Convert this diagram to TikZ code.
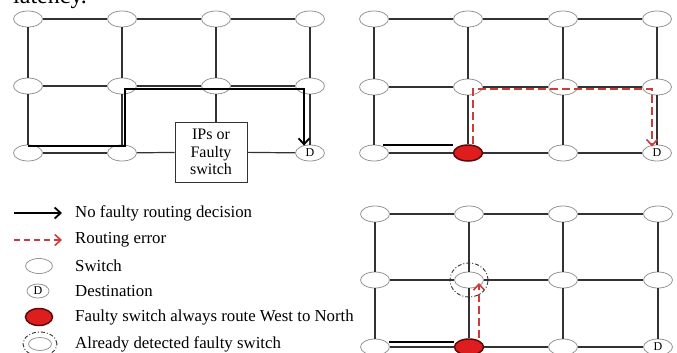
\documentclass[tikz,border=0pt]{standalone}
\usepackage{fontspec}
\setmainfont{Liberation Serif}
\usetikzlibrary{shapes.geometric,arrows.meta,calc}
\definecolor{gridc}{RGB}{50,50,50}
\definecolor{nodec}{RGB}{150,150,150}
\definecolor{errc}{RGB}{205,60,60}
\definecolor{faultfill}{RGB}{222,30,30}
\definecolor{faultdraw}{RGB}{90,10,10}
\tikzset{
  sw/.style={ellipse, draw=nodec, fill=white, minimum width=29pt, minimum height=16pt, inner sep=0pt, line width=0.8pt, font=\fontsize{12}{13}\selectfont},
  fsw/.style={sw, draw=faultdraw, fill=faultfill, line width=1.5pt},
  link/.style={draw=gridc, line width=1.2pt},
  route/.style={draw=black, line width=1.8pt},
  err/.style={draw=errc, line width=1.6pt, dash pattern=on 8pt off 4pt},
  barb/.style={-{Straight Barb[length=6pt,width=11pt,line width=1.8pt]}},
  ebarb/.style={-{Straight Barb[length=6pt,width=11pt,line width=1.6pt]}},
  legtext/.style={anchor=west, inner sep=0pt, font=\fontsize{16.8}{19}\selectfont},
  detect/.style={ellipse, draw=gray!40!black, line width=0.9pt, dash pattern=on 4pt off 2pt on 1pt off 2pt, minimum width=38pt, minimum height=34pt, inner sep=0pt}
}
\begin{document}
\begin{tikzpicture}[x=1pt,y=-1pt]
\useasboundingbox (0,0) rectangle (677,353);
\node[anchor=base west, inner sep=0pt, font=\fontsize{24}{26}\selectfont] (lat) at (13,4) {latency.};
% ---------- Panel 1 ----------
\foreach \r/\y in {1/19,2/86,3/153}{
  \foreach \c/\x in {1/28,2/122,3/216,4/310}{
    \coordinate (pa\r\c) at (\x,\y);
  }
}
\node[draw=gridc, fill=white, line width=1pt, minimum width=72pt, minimum height=60pt, inner sep=0pt, align=center, font=\fontsize{16}{17.5}\selectfont] (box) at (211,152) {IPs or\\Faulty\\switch};
\foreach \n in {11,12,13,14,21,22,23,24,31,32}{ \node[sw] (a\n) at (pa\n) {}; }
\node[sw] (a34) at (pa34) {D};
\draw[link] (a11) -- (a12); \draw[link] (a12) -- (a13); \draw[link] (a13) -- (a14);
\draw[link] (a21) -- (a22); \draw[link] (a22) -- (a23); \draw[link] (a23) -- (a24);
\draw[link] (a31) -- (a32); \draw[link] (a32) -- (box); \draw[link] (box) -- (a34);
\draw[link] (a11) -- (a21); \draw[link] (a21) -- (a31);
\draw[link] (a12) -- (a22); \draw[link] (a22) -- (a32);
\draw[link] (a13) -- (a23); \draw[link] (a23) -- (a23 |- box.north);
\draw[link] (a14) -- (a24); \draw[link] (a24) -- (a34);
\coordinate (r1a) at ($(a31)+(0,-7)$);
\coordinate (r1b) at ($(a32)+(3,-7)$);
\coordinate (r1c) at ($(a22)+(3,3)$);
\coordinate (r1d) at ($(a24)+(-6,3)$);
\coordinate (r1e) at ($(a34.north)+(-6,1)$);
\draw[route, barb] (r1a) -- (r1b) -- (r1c) -- (r1d) -- (r1e);
% ---------- Panel 2 ----------
\foreach \r/\y in {1/19,2/87,3/153}{
  \foreach \c/\x in {1/374,2/468,3/563,4/657}{
    \coordinate (pb\r\c) at (\x,\y);
  }
}
\foreach \n in {11,12,13,14,21,22,23,24,31,33}{ \node[sw] (b\n) at (pb\n) {}; }
\node[sw] (b34) at (pb34) {D};
\node[fsw] (b32) at (pb32) {};
\foreach \r in {1,2,3}{
  \draw[link] (b\r1) -- (b\r2); \draw[link] (b\r2) -- (b\r3); \draw[link] (b\r3) -- (b\r4);
}
\foreach \c in {1,2,3,4}{
  \draw[link] (b1\c) -- (b2\c); \draw[link] (b2\c) -- (b3\c);
}
\coordinate (r2a) at ($(b31)+(9,-8)$);
\coordinate (r2b) at ($(b32.west)+(0,-8)$);
\draw[route, line width=1.6pt] (r2a) -- (r2b);
\coordinate (e2a) at ($(b32.north)+(5,0)$);
\coordinate (e2b) at ($(b22)+(5,2)$);
\coordinate (e2c) at ($(b24)+(-5,2)$);
\coordinate (e2d) at ($(b34.north)+(-5,2)$);
\draw[err, ebarb] (e2a) -- (e2b) -- (e2c) -- (e2d);
% ---------- Panel 3 ----------
\foreach \r/\y in {1/214,2/280,3/347}{
  \foreach \c/\x in {1/375,2/469,3/563,4/658}{
    \coordinate (pc\r\c) at (\x,\y);
  }
}
\foreach \n in {11,12,13,14,21,22,23,24,31,33}{ \node[sw] (c\n) at (pc\n) {}; }
\node[sw] (c34) at (pc34) {D};
\node[fsw] (c32) at (pc32) {};
\foreach \r in {1,2,3}{
  \draw[link] (c\r1) -- (c\r2); \draw[link] (c\r2) -- (c\r3); \draw[link] (c\r3) -- (c\r4);
}
\foreach \c in {1,2,3,4}{
  \draw[link] (c1\c) -- (c2\c); \draw[link] (c2\c) -- (c3\c);
}
\node[detect] (det) at (c22) {};
\coordinate (r3a) at ($(c31)+(14,-5)$);
\coordinate (r3b) at ($(c32.west)+(0,-5)$);
\draw[route, line width=1.4pt] (r3a) -- (r3b);
\coordinate (e3a) at ($(c32.north)+(10,0)$);
\coordinate (e3b) at ($(c22)+(10,3)$);
\draw[err, ebarb] (e3a) -- (e3b);
% ---------- Legend ----------
\coordinate (l1a) at (14,213); \coordinate (l1b) at (62,213);
\draw[route, line width=1.5pt, barb] (l1a) -- (l1b);
\node[legtext] (t1) at (75,213) {No faulty routing decision};
\coordinate (l2a) at (14,240); \coordinate (l2b) at (62,240);
\draw[err, ebarb, dash pattern=on 6pt off 4pt] (l2a) -- (l2b);
\node[legtext] (t2) at (75,240) {Routing error};
\node[sw, minimum width=27pt, minimum height=15pt] (s1) at (39,266) {};
\node[legtext] (t3) at (75,266) {Switch};
\node[sw, minimum width=22pt, minimum height=14pt] (s2) at (38,291) {D};
\node[legtext] (t4) at (75,291) {Destination};
\node[fsw, minimum width=27pt, minimum height=17pt] (s3) at (39,317) {};
\node[legtext] (t5) at (75,317) {Faulty switch always route West to North};
\node[sw, minimum width=23pt, minimum height=13pt] (s4) at (40,344) {};
\node[detect, minimum width=34pt, minimum height=24pt] (s4d) at (40,344) {};
\node[legtext] (t6) at (75,344) {Already detected faulty switch};
\end{tikzpicture}
\end{document}
